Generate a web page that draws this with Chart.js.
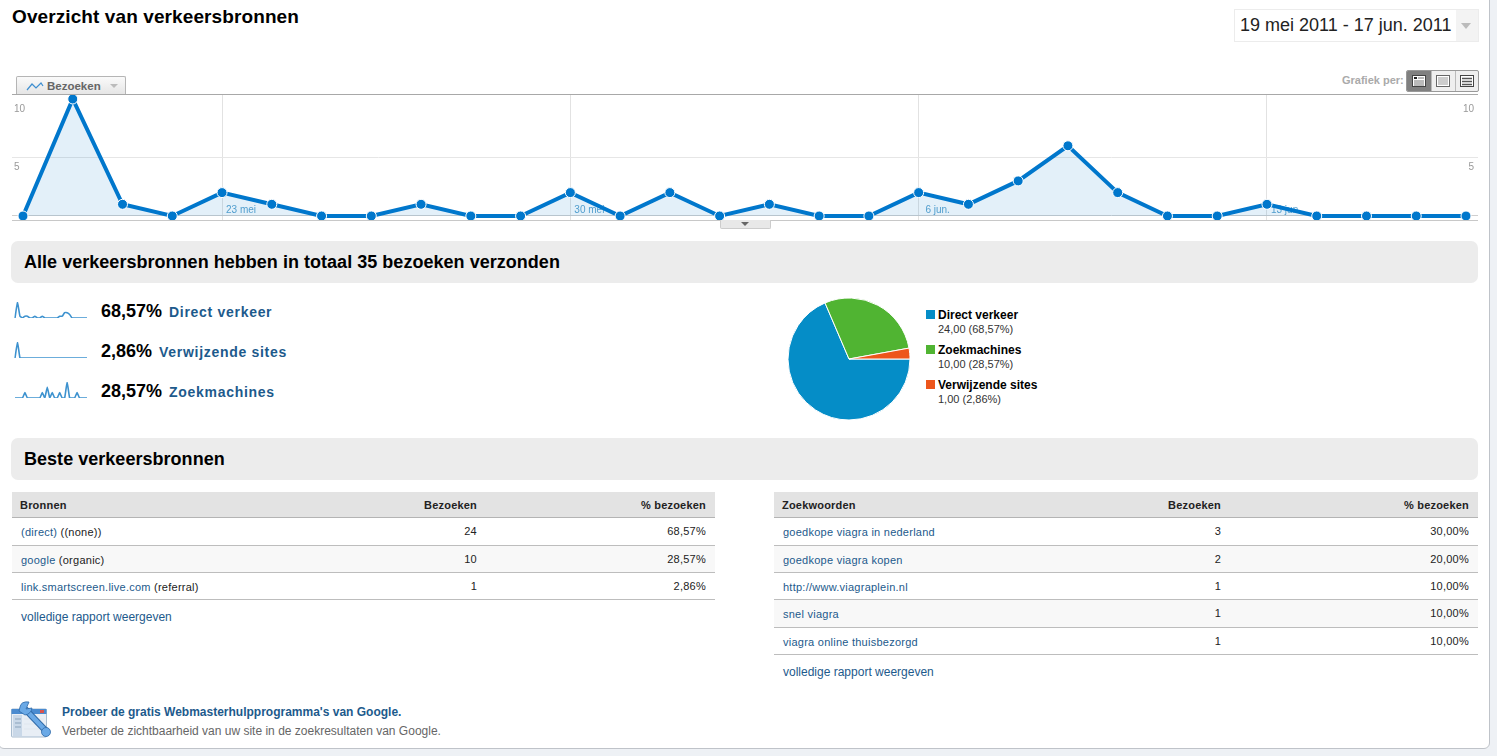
<!DOCTYPE html>
<html lang="nl">
<head>
<meta charset="UTF-8">
<title>Overzicht van verkeersbronnen</title>
<script src="https://cdn.jsdelivr.net/npm/chart.js"></script>
<style>
html, body { margin: 0; padding: 0; background: #eef1f5; }
body { width: 1497px; height: 756px; overflow: hidden; font-family: "Liberation Sans", Arial, sans-serif; position: relative; }
#page { position: absolute; left: -2px; top: -2px; width: 1490px; height: 749px; background: #fff; border: 1px solid #bfc3c9; border-radius: 0 0 6px 6px; }
.abs { position: absolute; white-space: nowrap; }
canvas { display: block; }
.bar { position: absolute; left: 11px; width: 1467px; height: 42px; background: #ececec; border-radius: 7px; }
.bar b { position: absolute; left: 13px; top: 11px; font-size: 18px; letter-spacing: .03px; color: #000; white-space: nowrap; }
.thead { position: absolute; height: 25px; background: #e3e3e3; border-bottom: 1px solid #b4b4b4; }
.row { position: absolute; border-bottom: 1px solid #bdbdbd; box-sizing: border-box; }
.cell { position: absolute; font-size: 11px; white-space: nowrap; letter-spacing: .25px; color: #222; }
.thead .cell { font-weight: bold; top: 7px; color: #222; letter-spacing: .2px; }
.link, .cell.link { color: #1d5a8c; }
.swatch { position: absolute; width: 9px; height: 9px; }
</style>
</head>
<body>
<div id="page"></div>

<div class="abs" style="left:12px;top:6px;font-size:19px;letter-spacing:.1px;font-weight:bold;color:#000">Overzicht van verkeersbronnen</div>

<div class="abs" style="left:1234px;top:9px;width:243px;height:31px;border:1px solid #ececec;background:#fff">
  <div class="abs" style="left:5px;top:5px;font-size:18px;color:#222">19 mei 2011 - 17 jun. 2011</div>
  <div class="abs" style="left:221px;top:0;width:22px;height:31px;background:#f3f3f3"></div>
  <div class="abs" style="left:226px;top:13px;width:0;height:0;border-left:5.5px solid transparent;border-right:5.5px solid transparent;border-top:6px solid #bbb"></div>
</div>

<!-- tab Bezoeken -->
<div class="abs" style="left:16px;top:76px;width:108px;height:18px;border:1px solid #b5b5b5;border-bottom:none;border-radius:2px 2px 0 0;background:linear-gradient(#fafafa,#e4e4e4)">
  <svg class="abs" style="left:9px;top:4px" width="18" height="11"><polyline points="1,9 6,3 10,7 15,2 17,5" fill="none" stroke="#3f8fd0" stroke-width="1.2"/></svg>
  <div class="abs" style="left:30px;top:3px;font-size:11.5px;font-weight:bold;color:#666">Bezoeken</div>
  <div class="abs" style="left:93px;top:7px;width:0;height:0;border-left:4px solid transparent;border-right:4px solid transparent;border-top:4px solid #bbb"></div>
</div>

<!-- Grafiek per -->
<div class="abs" style="left:1342px;top:74px;font-size:11px;font-weight:bold;color:#aaa">Grafiek per:</div>
<div class="abs" style="left:1406px;top:70px;width:71px;height:20px;border:1px solid #999;border-radius:2px;overflow:hidden;background:#efefef">
  <div class="abs" style="left:0;top:0;width:24px;height:20px;background:#808080"></div>
  <div class="abs" style="left:24px;top:0;width:1px;height:20px;background:#bbb"></div>
  <div class="abs" style="left:48px;top:0;width:1px;height:20px;background:#bbb"></div>
  <svg class="abs" style="left:5px;top:4px" width="62" height="13">
    <rect x=".5" y=".5" width="13" height="11" fill="#fff" stroke="#444"/><rect x="2" y="2" width="3" height="2" fill="#222"/><path d="M6 3H12M2 6H12M2 8H12M2 10H12" stroke="#777"/>
    <rect x="24.5" y=".5" width="13" height="11" fill="#fff" stroke="#666"/><path d="M26 3H36M26 5H36M26 7H36M26 9H36" stroke="#999"/>
    <rect x="48.5" y=".5" width="13" height="11" fill="#fff" stroke="#444"/><path d="M50 3.5H60M50 6.5H60M50 9.5H60" stroke="#555" stroke-width="1.6"/>
  </svg>
</div>

<!-- hoofdgrafiek -->
<div class="abs" style="left:12px;top:94px;width:1466px;height:1px;background:#a8a8a8"></div>
<div class="abs" style="left:12px;top:95px;width:1466px;height:125px"><canvas id="visitsChart" width="1466" height="125"></canvas></div>
<div class="abs" style="left:12px;top:220px;width:1466px;height:1px;background:#c8c8c8"></div>
<div class="abs" style="left:720px;top:220px;width:49px;height:8px;background:#e8e8e8;border:1px solid #ccc;border-top:none;border-radius:0 0 2px 2px">
  <div class="abs" style="left:20px;top:2px;width:0;height:0;border-left:4px solid transparent;border-right:4px solid transparent;border-top:4px solid #666"></div>
</div>

<div class="bar" style="top:241px"><b>Alle verkeersbronnen hebben in totaal 35 bezoeken verzonden</b></div>
<div class="bar" style="top:438px"><b>Beste verkeersbronnen</b></div>

<div id="sparkRows"></div>

<div class="abs" style="left:779px;top:298px;width:140px;height:122px"><canvas id="sourcePie" width="140" height="122"></canvas></div>
<div id="pieLegend"></div>

<div id="tables"></div>

<!-- webmaster tools -->
<svg class="abs" style="left:10px;top:701px" width="42" height="38" viewBox="0 0 42 38">
  <rect x="1.5" y="8" width="35" height="28" rx="1" fill="#e8eef5" stroke="#a9bdd0"/>
  <rect x="1.5" y="8" width="35" height="5" fill="#4a8bd0"/>
  <rect x="30" y="9" width="4" height="3" fill="#d9534f"/>
  <rect x="3" y="14" width="9" height="21" fill="#c9d8e8"/>
  <path d="M5 18H11M5 22H11M5 26H11" stroke="#8aa3bb"/>
  <path d="M14 18H34M14 23H34M14 28H34" stroke="#dfe6ee"/>
  <path d="M15 8 L36 30" stroke="#2f6aa8" stroke-width="6.5"/>
  <path d="M15 8 L36 30" stroke="#6aa9e6" stroke-width="4.5"/>
  <path d="M19 1 Q11 0 10 6 L9 10 L15 14 Q21 13 22 7 L16 8 Z" fill="#6aa9e6" stroke="#2f6aa8" stroke-width=".8"/>
  <circle cx="36" cy="31" r="4.5" fill="#6aa9e6" stroke="#2f6aa8" stroke-width=".8"/>
</svg>
<div class="abs" style="left:62px;top:705px;font-size:12px;font-weight:bold;color:#1d5a8c">Probeer de gratis Webmasterhulpprogramma's van Google.</div>
<div class="abs" style="left:62px;top:724px;font-size:12px;color:#666">Verbeter de zichtbaarheid van uw site in de zoekresultaten van Google.</div>

<script>
// gegevens
const dates = ['19 mei','20 mei','21 mei','22 mei','23 mei','24 mei','25 mei','26 mei','27 mei','28 mei',
  '29 mei','30 mei','31 mei','1 jun.','2 jun.','3 jun.','4 jun.','5 jun.','6 jun.','7 jun.',
  '8 jun.','9 jun.','10 jun.','11 jun.','12 jun.','13 jun.','14 jun.','15 jun.','16 jun.','17 jun.'];
const visits = [0,10,1,0,2,1,0,0,1,0,0,2,0,2,0,1,0,0,2,1,3,6,2,0,0,1,0,0,0,0];
const directVisits = [0,9,1,0,1,1,0,0,1,0,0,1,0,0,0,0,0,0,1,1,3,3,2,0,0,0,0,0,0,0];
const referralVisits = [0,1,0,0,0,0,0,0,0,0,0,0,0,0,0,0,0,0,0,0,0,0,0,0,0,0,0,0,0,0];
const searchVisits = [0,0,0,0,1,0,0,0,0,0,0,1,0,2,0,1,0,0,1,0,0,3,0,0,0,1,0,0,0,0];
const weekTickIndexes = [4,11,18,25];
const yTicks = [0,5,10];

const sparkNames = ['Direct verkeer','Verwijzende sites','Zoekmachines'];
const sparkShares = ['68,57%','2,86%','28,57%'];
const sparkSeries = [directVisits, referralVisits, searchVisits];

const pieLabels = ['Direct verkeer','Zoekmachines','Verwijzende sites'];
const pieValues = [24,10,1];
const pieTexts = ['24,00 (68,57%)','10,00 (28,57%)','1,00 (2,86%)'];
const pieColors = ['#058dc7','#50b432','#ed561b'];

const sourceNames = ['(direct)','google','link.smartscreen.live.com'];
const sourceMedia = ['((none))','(organic)','(referral)'];
const sourceVisits = [24,10,1];
const sourceShares = ['68,57%','28,57%','2,86%'];

const keywordNames = ['goedkope viagra in nederland','goedkope viagra kopen','http://www.viagraplein.nl','snel viagra','viagra online thuisbezorgd'];
const keywordVisits = [3,2,1,1,1];
const keywordShares = ['30,00%','20,00%','10,00%','10,00%','10,00%'];

const rowLines = [517,545,572,599,627,654];

// hoofdgrafiek
const noPadding = s => { s.width = 0; s.paddingTop = 0; s.paddingBottom = 0; };
new Chart(document.getElementById('visitsChart'), {
  type: 'line',
  data: {
    datasets: [{
      data: visits.map((v, i) => ({ x: i, y: v })),
      borderColor: '#0077cc',
      borderWidth: 4,
      backgroundColor: 'rgba(0,119,204,0.11)',
      fill: 'origin',
      tension: 0,
      pointRadius: 5,
      pointBackgroundColor: '#0077cc',
      pointBorderColor: '#fff',
      pointBorderWidth: 1
    }]
  },
  options: {
    responsive: false,
    animation: false,
    layout: { autoPadding: false },
    plugins: { legend: { display: false }, tooltip: { enabled: false } },
    scales: {
      x: {
        type: 'linear',
        min: -0.221, max: 29.241,
        grid: { drawTicks: false, color: '#e2e2e2' },
        border: { display: false },
        afterFit: s => { s.height = 0; s.paddingLeft = 0; s.paddingRight = 0; },
        afterBuildTicks: s => { s.ticks = weekTickIndexes.map(v => ({ value: v })); },
        ticks: {
          autoSkip: false, maxRotation: 0, mirror: true, padding: 4, labelOffset: 19,
          font: { family: 'Liberation Sans', size: 10 }, color: '#5ba3cf',
          callback: v => dates[v]
        }
      },
      y: {
        min: -0.342, max: 10.342,
        afterFit: noPadding,
        afterBuildTicks: s => { s.ticks = yTicks.map(v => ({ value: v })); },
        grid: { drawTicks: false, color: c => c.tick.value === 10 ? 'transparent' : (c.tick.value === 0 ? '#cfcfcf' : '#e6e6e6') },
        border: { display: false },
        ticks: {
          mirror: true, padding: 2, labelOffset: 10, font: { family: 'Liberation Sans', size: 10 }, color: '#999',
          callback: v => v === 0 ? '' : String(v)
        }
      },
      yRight: {
        position: 'right',
        min: -0.342, max: 10.342,
        afterFit: noPadding,
        afterBuildTicks: s => { s.ticks = yTicks.map(v => ({ value: v })); },
        grid: { display: false },
        border: { display: false },
        ticks: {
          mirror: true, padding: -4, labelOffset: 10, font: { family: 'Liberation Sans', size: 10 }, color: '#999',
          callback: v => v === 0 ? '' : String(v)
        }
      }
    }
  }
});

// kleine grafieken links
const sparkTops = [301,341,381];
const sparkHolder = document.getElementById('sparkRows');
sparkNames.forEach((name, i) => {
  const top = sparkTops[i];
  sparkHolder.insertAdjacentHTML('beforeend',
    `<div class="abs" style="left:13px;top:${top}px;width:76px;height:20px"><canvas id="spark${i}" width="76" height="20"></canvas></div>` +
    `<div class="abs" style="left:101px;top:${top}px;font-size:18px;font-weight:bold;color:#000">${sparkShares[i]}` +
    `<span class="link" style="font-size:14px;margin-left:7px;letter-spacing:.7px">${name}</span></div>`);
  new Chart(document.getElementById('spark' + i), {
    type: 'line',
    data: { labels: dates, datasets: [{ data: sparkSeries[i], borderColor: '#3d92cf', borderWidth: 1.6, pointRadius: 0, tension: 0.1, fill: false }] },
    options: {
      responsive: false, animation: false,
      layout: { autoPadding: false, padding: { left: 2, right: 2, top: 1, bottom: 3 } },
      plugins: { legend: { display: false }, tooltip: { enabled: false } },
      scales: { x: { display: false }, y: { display: false, min: 0, max: Math.max(...sparkSeries[i]) } }
    }
  });
});

// taartdiagram
new Chart(document.getElementById('sourcePie'), {
  type: 'pie',
  data: { labels: pieLabels, datasets: [{ data: pieValues, backgroundColor: pieColors, borderColor: '#fff', borderWidth: 1 }] },
  options: {
    responsive: false, animation: false, rotation: 90, radius: 61,
    plugins: { legend: { display: false }, tooltip: { enabled: false } }
  }
});

const legendHolder = document.getElementById('pieLegend');
pieLabels.forEach((label, i) => {
  const top = 308 + i * 35;
  legendHolder.insertAdjacentHTML('beforeend',
    `<div class="swatch" style="left:926px;top:${top + 2}px;background:${pieColors[i]}"></div>` +
    `<div class="abs" style="left:938px;top:${top}px;font-size:12px;font-weight:bold;color:#000">${label}</div>` +
    `<div class="abs" style="left:938px;top:${top + 15}px;font-size:11px;color:#333">${pieTexts[i]}</div>`);
});

// tabellen
function buildTable(left, width, countRight, header, names, extras, counts, shares) {
  const holder = document.getElementById('tables');
  let html = `<div class="thead" style="left:${left}px;top:492px;width:${width}px">` +
    `<span class="cell" style="left:8px">${header}</span>` +
    `<span class="cell" style="right:${countRight}px">Bezoeken</span>` +
    `<span class="cell" style="right:9px">% bezoeken</span></div>`;
  names.forEach((name, i) => {
    const top = rowLines[i] + 1;
    const bottom = rowLines[i + 1] + 1;
    const extra = extras ? ` <span style="color:#222">${extras[i]}</span>` : '';
    html += `<div class="row" style="left:${left}px;top:${top}px;width:${width}px;height:${bottom - top}px;background:${i % 2 ? '#f8f8f8' : '#fff'}">` +
      `<span class="cell link" style="left:9px;top:8px">${name}${extra}</span>` +
      `<span class="cell" style="right:${countRight}px;top:7px">${counts[i]}</span>` +
      `<span class="cell" style="right:9px;top:7px">${shares[i]}</span></div>`;
  });
  const linkTop = rowLines[names.length] + 11;
  html += `<div class="abs link" style="left:${left + 9}px;top:${linkTop}px;font-size:12px">volledige rapport weergeven</div>`;
  holder.insertAdjacentHTML('beforeend', html);
}
buildTable(12, 703, 238, 'Bronnen', sourceNames, sourceMedia, sourceVisits, sourceShares);
buildTable(774, 704, 257, 'Zoekwoorden', keywordNames, null, keywordVisits, keywordShares);
</script>
</body>
</html>
